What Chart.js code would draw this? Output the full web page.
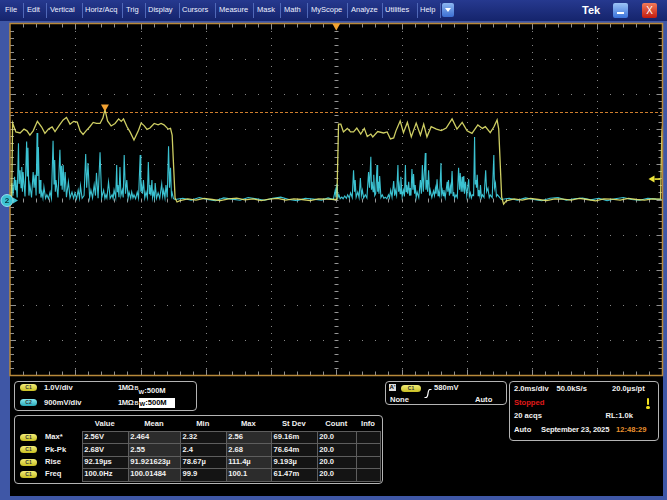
<!DOCTYPE html>
<html><head><meta charset="utf-8">
<script src="https://cdn.jsdelivr.net/npm/chart.js@4.4.1/dist/chart.umd.min.js"></script>
<style>
html,body{margin:0;padding:0;}
body{width:667px;height:500px;position:relative;overflow:hidden;background:#3f57a6;font-family:"Liberation Sans",Arial,sans-serif;}
#menu{position:absolute;left:0;top:0;width:667px;height:21px;background:linear-gradient(#26398f,#15246c);}
.mi{position:absolute;top:5px;font-size:7.5px;color:#eef1ff;line-height:10px;white-space:nowrap;}
.sep{position:absolute;top:3px;width:1px;height:15px;background:#5068b8;}
#panel{position:absolute;left:10px;top:376px;width:653px;height:120px;background:#000;}
#scope{position:absolute;left:0;top:21px;}
.box{position:absolute;border:1px solid #b4b4b4;border-radius:4px;box-sizing:border-box;}
.t{position:absolute;font-size:7.6px;font-weight:bold;color:#f2f2f2;line-height:10px;white-space:nowrap;}
.pill{position:absolute;height:7px;width:17px;border-radius:4px;font-weight:bold;font-size:5px;color:#333;text-align:center;line-height:7px;}
.py{background:linear-gradient(#f2ec78,#c9bf22);}
.pc{background:linear-gradient(#86eaf2,#2aa9b9);}
.cell{position:absolute;}
</style></head>
<body>
<div id="menu"></div>
<div id="panel"></div>
<canvas id="scope" width="667" height="357" style="width:667px;height:357px"></canvas>
<div id="ui"></div>
<script>
// ---------------- data (read from the screen) ----------------
// time in ms (2.0 ms/div, trigger at centre), volts
const c1Pulse1 = [[-10.00,0.00],[-9.95,0.01],[-9.92,2.17],[-9.82,1.92],[-9.69,1.89],[-9.57,2.00],[-9.48,1.95],[-9.39,1.83],[-9.29,1.95],[-9.16,2.22],[-9.03,2.06],[-8.93,1.88],[-8.82,2.00],[-8.71,2.06],[-8.62,1.93],[-8.48,2.12],[-8.37,2.26],[-8.27,2.33],[-8.16,2.14],[-8.05,2.22],[-7.94,2.20],[-7.85,1.95],[-7.76,1.85],[-7.67,1.95],[-7.56,2.06],[-7.45,2.19],[-7.35,2.16],[-7.24,2.16],[-7.15,2.32],[-7.09,2.56],[-7.01,2.23],[-6.90,2.09],[-6.78,2.16],[-6.67,2.29],[-6.59,2.22],[-6.52,2.29],[-6.41,2.06],[-6.32,1.92],[-6.20,1.69],[-6.06,1.97],[-5.98,2.17],[-5.89,2.10],[-5.80,1.99],[-5.71,2.03],[-5.58,2.16],[-5.46,2.12],[-5.37,2.16],[-5.28,2.12],[-5.15,2.00],[-5.08,2.02],[-5.03,1.83],[-4.94,0.04],[-4.88,-0.07],[-4.79,-0.03]];
const c1Gap1 = [[-4.55,0.02],[-4.30,-0.02],[-4.05,0.03],[-3.80,0.00],[-3.55,-0.03],[-3.30,0.02],[-3.05,0.04],[-2.80,-0.01],[-2.55,0.02],[-2.30,-0.03],[-2.05,0.01],[-1.80,0.03],[-1.55,-0.02],[-1.30,0.02],[-1.05,0.00],[-0.80,-0.03],[-0.55,0.02],[-0.30,0.01],[-0.02,0.00]];
const c1Pulse2 = [[0.02,0.01],[0.07,2.14],[0.14,2.14],[0.22,1.92],[0.34,2.02],[0.44,1.92],[0.53,1.92],[0.63,2.03],[0.75,1.86],[0.86,2.02],[0.95,1.79],[1.06,1.86],[1.12,1.78],[1.27,1.93],[1.45,1.89],[1.56,1.92],[1.66,1.72],[1.76,1.75],[1.83,1.95],[1.96,2.23],[2.06,1.90],[2.18,2.19],[2.30,1.78],[2.45,2.17],[2.58,1.83],[2.68,2.14],[2.78,1.78],[2.91,2.07],[3.07,2.00],[3.22,1.96],[3.37,2.03],[3.55,2.29],[3.70,2.00],[3.86,2.19],[4.01,1.95],[4.16,1.88],[4.34,2.12],[4.48,2.02],[4.57,2.07],[4.72,1.90],[4.83,2.06],[4.93,2.26],[4.98,2.00],[5.07,0.07],[5.13,-0.13],[5.21,-0.04]];
const c1Gap2 = [[5.45,0.02],[5.70,-0.02],[5.95,0.03],[6.20,0.00],[6.45,-0.03],[6.70,0.02],[6.95,0.01],[7.20,-0.02],[7.45,0.03],[7.70,0.00],[7.95,-0.04],[8.20,0.02],[8.45,0.01],[8.70,-0.02],[8.95,0.03],[9.20,0.00],[9.45,-0.02],[9.70,0.02],[9.94,0.01],[9.98,1.90],[10.00,2.10]];

const c2Pulse1 = [[-10.00,0.00],[-9.94,0.42],[-9.91,0.10],[-9.86,0.58],[-9.84,0.25],[-9.82,0.50],[-9.78,0.05],[-9.74,1.44],[-9.72,0.40],[-9.69,0.75],[-9.66,0.30],[-9.64,0.83],[-9.62,0.20],[-9.60,0.70],[-9.54,0.08],[-9.49,1.48],[-9.47,0.60],[-9.45,1.32],[-9.42,0.10],[-9.39,0.37],[-9.34,0.05],[-9.29,0.70],[-9.26,0.30],[-9.23,0.63],[-9.20,0.10],[-9.17,1.70],[-9.15,0.60],[-9.13,1.34],[-9.10,0.15],[-9.08,0.50],[-9.05,0.05],[-9.02,0.19],[-8.99,0.04],[-8.96,0.32],[-8.91,0.03],[-8.87,0.12],[-8.82,0.02],[-8.77,0.19],[-8.73,0.03],[-8.68,1.50],[-8.65,0.40],[-8.63,1.01],[-8.61,0.20],[-8.59,0.50],[-8.53,0.05],[-8.47,1.27],[-8.44,0.35],[-8.42,0.86],[-8.40,0.25],[-8.37,0.88],[-8.34,0.20],[-8.31,0.70],[-8.27,0.06],[-8.21,0.45],[-8.16,0.04],[-8.10,0.19],[-8.05,0.03],[-8.01,0.17],[-7.96,0.02],[-7.91,0.24],[-7.87,0.04],[-7.84,0.35],[-7.79,0.03],[-7.73,0.10],[-7.68,1.16],[-7.65,0.30],[-7.61,0.93],[-7.56,0.05],[-7.52,0.24],[-7.47,0.04],[-7.42,0.37],[-7.38,0.10],[-7.35,0.68],[-7.30,0.03],[-7.24,1.21],[-7.19,0.05],[-7.13,0.24],[-7.09,0.03],[-7.06,0.12],[-7.03,0.04],[-6.98,0.45],[-6.93,0.03],[-6.87,0.12],[-6.84,0.03],[-6.81,0.24],[-6.76,0.05],[-6.73,0.88],[-6.71,0.20],[-6.69,0.37],[-6.66,0.06],[-6.63,0.83],[-6.60,0.10],[-6.56,0.24],[-6.53,0.05],[-6.50,1.14],[-6.46,0.15],[-6.42,0.50],[-6.38,0.04],[-6.35,0.19],[-6.30,0.03],[-6.27,0.19],[-6.23,0.04],[-6.20,0.12],[-6.15,0.02],[-6.10,0.19],[-6.06,0.04],[-6.01,1.14],[-5.99,0.20],[-5.97,0.37],[-5.94,0.15],[-5.91,0.50],[-5.87,0.04],[-5.83,0.19],[-5.79,0.05],[-5.76,0.96],[-5.73,0.15],[-5.71,0.37],[-5.68,0.10],[-5.65,0.50],[-5.63,0.05],[-5.60,0.19],[-5.57,0.05],[-5.55,0.42],[-5.51,0.03],[-5.46,0.17],[-5.41,0.03],[-5.35,0.40],[-5.32,0.08],[-5.29,0.24],[-5.25,0.04],[-5.22,0.37],[-5.18,0.05],[-5.14,1.36],[-5.11,0.30],[-5.08,0.81],[-5.05,0.10],[-5.03,0.17],[-4.99,0.02],[-4.94,0.00]];
const c2Gap1 = [[-4.70,0.03],[-4.45,-0.02],[-4.20,0.05],[-3.95,0.00],[-3.70,-0.03],[-3.45,0.04],[-3.20,0.01],[-2.95,-0.02],[-2.70,0.05],[-2.45,0.02],[-2.20,-0.02],[-1.95,0.03],[-1.70,0.06],[-1.45,0.00],[-1.20,-0.03],[-0.95,0.03],[-0.70,0.01],[-0.45,-0.02],[-0.25,0.04],[-0.09,0.00]];
const c2Pulse2 = [[-0.03,0.24],[-0.01,0.05],[0.02,0.40],[0.05,0.05],[0.08,0.12],[0.12,0.02],[0.17,0.06],[0.21,0.02],[0.26,0.09],[0.31,0.03],[0.35,0.12],[0.40,0.04],[0.44,0.17],[0.49,0.05],[0.53,0.75],[0.56,0.20],[0.58,0.50],[0.61,0.06],[0.66,0.19],[0.70,0.05],[0.74,0.55],[0.77,0.10],[0.80,0.24],[0.84,0.04],[0.89,0.12],[0.94,0.04],[0.99,0.70],[1.02,0.30],[1.06,1.09],[1.08,0.25],[1.10,0.45],[1.13,0.20],[1.15,0.63],[1.18,0.10],[1.21,0.15],[1.25,0.88],[1.27,0.20],[1.29,0.45],[1.31,0.15],[1.33,0.60],[1.37,0.05],[1.41,0.12],[1.46,0.03],[1.50,0.06],[1.55,0.02],[1.60,0.12],[1.63,0.04],[1.67,0.24],[1.71,0.06],[1.76,0.47],[1.79,0.10],[1.81,0.24],[1.85,0.10],[1.89,0.88],[1.91,0.20],[1.93,0.37],[1.96,0.15],[1.98,0.58],[2.02,0.08],[2.06,0.24],[2.09,0.08],[2.12,0.88],[2.14,0.20],[2.16,0.37],[2.19,0.15],[2.22,0.45],[2.25,0.10],[2.27,0.29],[2.29,0.10],[2.32,0.78],[2.35,0.25],[2.37,0.65],[2.40,0.15],[2.42,0.37],[2.45,0.05],[2.48,0.19],[2.53,0.05],[2.58,0.50],[2.61,0.15],[2.64,0.88],[2.67,0.20],[2.73,1.19],[2.75,0.25],[2.78,0.50],[2.80,0.20],[2.83,0.75],[2.86,0.10],[2.88,0.24],[2.93,0.05],[2.98,0.22],[3.01,0.10],[3.04,0.29],[3.06,0.15],[3.09,0.52],[3.12,0.10],[3.14,0.19],[3.17,0.10],[3.21,0.93],[3.23,0.15],[3.25,0.24],[3.28,0.10],[3.30,0.24],[3.34,0.05],[3.40,0.45],[3.42,0.20],[3.44,0.50],[3.47,0.10],[3.50,0.32],[3.52,0.15],[3.55,0.73],[3.58,0.10],[3.60,0.19],[3.63,0.04],[3.67,0.12],[3.71,0.05],[3.75,0.81],[3.78,0.25],[3.80,0.68],[3.83,0.20],[3.86,0.58],[3.88,0.20],[3.91,0.60],[3.93,0.15],[3.96,0.45],[4.00,0.10],[4.06,0.52],[4.08,0.08],[4.11,0.17],[4.14,0.04],[4.17,0.12],[4.21,0.10],[4.24,1.60],[4.26,0.40],[4.28,0.50],[4.30,0.30],[4.32,0.63],[4.35,0.10],[4.37,0.24],[4.40,0.10],[4.42,0.37],[4.45,0.05],[4.48,0.12],[4.53,0.05],[4.58,0.75],[4.61,0.20],[4.65,0.29],[4.69,0.05],[4.72,0.12],[4.78,0.05],[4.83,1.14],[4.85,0.30],[4.88,0.42],[4.91,0.08],[4.94,0.12],[5.00,0.06],[5.06,0.00]];
const c2Gap2 = [[5.30,0.03],[5.55,-0.02],[5.80,0.04],[6.05,0.00],[6.30,-0.03],[6.55,0.03],[6.80,0.05],[7.05,-0.02],[7.30,0.02],[7.55,0.04],[7.80,-0.01],[8.05,0.03],[8.30,-0.03],[8.55,0.02],[8.80,0.05],[9.05,0.00],[9.30,-0.02],[9.55,0.03],[9.80,0.01],[10.00,0.00]];

// graticule (10 x 10 divisions)
const gridTimes = [-8,-6,-4,-2,0,2,4,6,8];      // ms, 2.0 ms/div
const gridVolts = [-4,-3,-2,-1,0,1,2,3,4];      // C1 volts, 1.0 V/div
const triggerTime = 0;       // ms
const triggerLevel = 0.58;   // V (580mV on C1)
const cursorLevel = 2.5;     // V, orange dashed cursor
const cursorTime = -7.09;    // ms, orange marker

// text content
const menuItems = ['File','Edit','Vertical','Horiz/Acq','Trig','Display','Cursors','Measure','Mask','Math','MyScope','Analyze','Utilities','Help'];
const measColumns = ['Value','Mean','Min','Max','St Dev','Count','Info'];
const measNames = ['Max*','Pk-Pk','Rise','Freq'];
const measValues = [
  ['2.56V','2.464','2.32','2.56','69.16m','20.0',''],
  ['2.68V','2.55','2.4','2.68','76.64m','20.0',''],
  ['92.19µs','91.921623µ','78.67µ','111.4µ','9.193µ','20.0',''],
  ['100.0Hz','100.01484','99.9','100.1','61.47m','20.0','']
];

// ---------------- UI chrome ----------------
const ui = document.getElementById('ui');
function add(parent, cls, style, text, html){
  const d=document.createElement('div'); if(cls) d.className=cls; d.style.cssText=style;
  if(html!==undefined) d.innerHTML=html; else if(text!==undefined) d.textContent=text;
  parent.appendChild(d); return d;
}
const menu=document.getElementById('menu');
const menuX=[5,27,50,85,126,148,182,219,257,284,311,351,385,420];
const sepX=[23,46,82,122,145,179,215,253,280,307,347,382,417,440];
menuItems.forEach((m,i)=>add(menu,'mi','left:'+menuX[i]+'px',m));
sepX.forEach(x=>add(menu,'sep','left:'+x+'px'));
add(menu,'','position:absolute;left:442px;top:3px;width:12px;height:14px;border-radius:2px;background:linear-gradient(#8cb6f0,#3b6ed2);');
add(menu,'','position:absolute;left:445px;top:8px;width:0;height:0;border-left:3px solid transparent;border-right:3px solid transparent;border-top:4px solid #fff;');
add(menu,'','position:absolute;left:582px;top:3px;font:bold 11px "Liberation Sans";color:#fff;line-height:14px;','Tek');
add(menu,'','position:absolute;left:613px;top:3px;width:15px;height:15px;border-radius:2px;background:linear-gradient(#9cc4f6,#3a72da);');
add(menu,'','position:absolute;left:617px;top:12px;width:7px;height:2px;background:#fff;');
add(menu,'','position:absolute;left:642px;top:3px;width:15px;height:15px;border-radius:2px;background:linear-gradient(#f27a5a,#c21c10);color:#fff;font:10px "Liberation Sans";text-align:center;line-height:15px;','X');

// channel box
add(ui,'box','left:14px;top:381px;width:183px;height:30px;');
add(ui,'pill py','left:20px;top:384px;','C1');
add(ui,'t','left:44px;top:382.5px;','1.0V/div');
add(ui,'t','left:118px;top:382.5px;letter-spacing:-0.4px;','1MΩ');
add(ui,'t','left:134.5px;top:382.5px;',undefined,'<span style="font-size:5.5px;vertical-align:3px">B</span><span style="font-size:6px;vertical-align:-1px">W</span>:500M');
add(ui,'pill pc','left:20px;top:399px;','C2');
add(ui,'t','left:44px;top:397.5px;','900mV/div');
add(ui,'t','left:118px;top:397.5px;letter-spacing:-0.4px;','1MΩ');
add(ui,'t','left:134.5px;top:397.5px;',undefined,'<span style="font-size:5.5px;vertical-align:3px">B</span>');
add(ui,'','position:absolute;left:139px;top:398px;width:36px;height:10px;background:#fff;');
add(ui,'t','left:139.5px;top:397.5px;color:#000;',undefined,'<span style="font-size:6px;vertical-align:-1px">W</span>:500M');

// measurement box
add(ui,'box','left:14px;top:415px;width:369px;height:69px;');
const colL=[81.7,127.7,180,225.7,271,316.7,356,380];
const rowT=[431,443.4,455.8,468.2,480.6];
const colBg=['#141414','#2c2c2c','#141414','#2c2c2c','#141414','#141414','#141414'];
measColumns.forEach((c,i)=>add(ui,'t','left:'+colL[i]+'px;width:'+(colL[i+1]-colL[i])+'px;text-align:center;top:418.5px;',c));
add(ui,'cell','left:'+colL[0]+'px;top:'+rowT[0]+'px;width:'+(colL[7]-colL[0]+1)+'px;height:'+(rowT[4]-rowT[0]+1)+'px;background:#5e5e5e;');
measNames.forEach((n,r)=>{
  const cy=(rowT[r]+rowT[r+1])/2;
  add(ui,'pill py','left:20px;top:'+(cy-3.5)+'px;','C1');
  add(ui,'t','left:45px;top:'+(cy-5)+'px;',n);
  for(let c=0;c<7;c++){
    add(ui,'cell','left:'+(colL[c]+1)+'px;top:'+(rowT[r]+1)+'px;width:'+(colL[c+1]-colL[c]-1)+'px;height:'+(rowT[r+1]-rowT[r]-1)+'px;background:'+colBg[c]+';');
    if(measValues[r][c]) add(ui,'t','left:'+(colL[c]+2.5)+'px;top:'+(cy-5)+'px;',measValues[r][c]);
  }
});

// trigger box
add(ui,'box','left:385px;top:381px;width:122px;height:24px;');
add(ui,'','position:absolute;left:389px;top:384px;width:7px;height:7px;background:#ddd;color:#000;font:bold 6px "Liberation Sans";line-height:7px;text-align:center;','A\'');
add(ui,'pill py','left:401px;top:384.5px;width:20px;','C1');
add(ui,'',"position:absolute;left:424px;top:384px;",undefined,'<svg width="8" height="9"><path d="M0.5 8.5 L2 8.5 Q3.5 8.5 4 4.5 Q4.5 0.5 6 0.5 L7.5 0.5" stroke="#fff" stroke-width="1.2" fill="none"/></svg>');
add(ui,'t','left:434px;top:383px;','580mV');
add(ui,'t','left:390px;top:395px;','None');
add(ui,'t','left:475px;top:395px;','Auto');

// horizontal / acquisition box
add(ui,'box','left:509px;top:381px;width:150px;height:60px;');
add(ui,'t','left:514px;top:383.7px;','2.0ms/div');
add(ui,'t','left:556.5px;top:383.7px;','50.0kS/s');
add(ui,'t','left:612px;top:383.7px;','20.0µs/pt');
add(ui,'t','left:514px;top:397.7px;color:#e01a1a;','Stopped');
add(ui,'','position:absolute;left:646.5px;top:397.5px;width:2.5px;height:7px;background:#f0e020;border-radius:1px;');
add(ui,'','position:absolute;left:646px;top:405.5px;width:3.5px;height:3px;background:#f0e020;border-radius:2px;');
add(ui,'t','left:514px;top:410.7px;','20 acqs');
add(ui,'t','left:605.5px;top:410.7px;','RL:1.0k');
add(ui,'t','left:514px;top:425px;','Auto');
add(ui,'t','left:541px;top:425px;letter-spacing:-0.15px;','September 23, 2025');
add(ui,'t','left:616px;top:425px;color:#e8902e;','12:48:29');

// ---------------- Chart ----------------
const toXY = arr => arr.map(([t,v])=>({x:t,y:v}));
const c1Points = toXY([...c1Pulse1, ...c1Gap1, ...c1Pulse2, ...c1Gap2]);
const c2Points = toXY([...c2Pulse1, ...c2Gap1, ...c2Pulse2, ...c2Gap2]);

const scopeDecor = {
  id:'scopeDecor',
  beforeDatasetsDraw(chart){
    const {ctx, chartArea:a, scales} = chart;
    const x=scales.x, y=scales.y1;
    ctx.save();
    ctx.fillStyle='#000';
    ctx.fillRect(a.left,a.top,a.right-a.left,a.bottom-a.top);
    ctx.fillStyle='rgba(150,150,150,0.9)';
    for(const t of gridTimes){
      const px=Math.round(x.getPixelForValue(t));
      for(let k=1;k<50;k++){ const py=Math.round(y.getPixelForValue(-5+k*0.2)); ctx.fillRect(px,py,1,1); }
    }
    for(const v of gridVolts){
      const py=Math.round(y.getPixelForValue(v));
      for(let k=1;k<50;k++){ const px=Math.round(x.getPixelForValue(-10+k*0.4)); ctx.fillRect(px,py,1,1); }
    }
    ctx.strokeStyle='rgba(160,160,160,0.9)'; ctx.lineWidth=1;
    const cx=Math.round(x.getPixelForValue(0))+0.5, cy=Math.round(y.getPixelForValue(0))+0.5;
    ctx.beginPath();
    for(let k=1;k<50;k++){
      const py=Math.round(y.getPixelForValue(-5+k*0.2))+0.5;
      ctx.moveTo(cx-2,py); ctx.lineTo(cx+2,py);
      const len = k%5===0?6:4;
      ctx.moveTo(a.left,py); ctx.lineTo(a.left+len,py);
      ctx.moveTo(a.right,py); ctx.lineTo(a.right-len,py);
    }
    for(let k=1;k<50;k++){
      const px=Math.round(x.getPixelForValue(-10+k*0.4))+0.5;
      ctx.moveTo(px,cy-2); ctx.lineTo(px,cy+2);
      const len = k%5===0?6:4;
      ctx.moveTo(px,a.top); ctx.lineTo(px,a.top+len);
      ctx.moveTo(px,a.bottom); ctx.lineTo(px,a.bottom-len);
    }
    ctx.stroke();
    // cursor line
    const cyl=Math.round(y.getPixelForValue(cursorLevel))+0.5;
    ctx.strokeStyle='rgb(205,125,45)'; ctx.setLineDash([3,2]);
    ctx.beginPath(); ctx.moveTo(a.left,cyl); ctx.lineTo(a.right,cyl); ctx.stroke();
    ctx.setLineDash([]);
    ctx.restore();
  },
  afterDatasetsDraw(chart){
    const {ctx, chartArea:a, scales} = chart;
    const x=scales.x, y=scales.y1;
    ctx.save();
    ctx.strokeStyle='#b8893a'; ctx.lineWidth=1.5;
    ctx.strokeRect(a.left,a.top,a.right-a.left,a.bottom-a.top);
    // trigger position marker
    const tx=x.getPixelForValue(triggerTime);
    ctx.fillStyle='#f2a232';
    ctx.beginPath(); ctx.moveTo(tx-4,a.top); ctx.lineTo(tx+4,a.top); ctx.lineTo(tx,a.top+7); ctx.closePath(); ctx.fill();
    // cursor marker
    const mx=x.getPixelForValue(cursorTime), cyl=y.getPixelForValue(cursorLevel);
    ctx.beginPath(); ctx.moveTo(mx-4,cyl-7); ctx.lineTo(mx+4,cyl-7); ctx.lineTo(mx,cyl); ctx.closePath(); ctx.fill();
    // trigger level arrow
    const ty=y.getPixelForValue(triggerLevel);
    ctx.fillStyle='#ece43a';
    ctx.beginPath(); ctx.moveTo(a.right-14,ty); ctx.lineTo(a.right-8,ty-3.5); ctx.lineTo(a.right-8,ty+3.5); ctx.closePath(); ctx.fill();
    ctx.fillRect(a.right-8,ty-0.8,6,1.6);
    // channel 2 ground marker
    const gy=scales.y2.getPixelForValue(0)+1;
    ctx.fillStyle='#3cc2d2';
    ctx.beginPath(); ctx.moveTo(a.left+3,gy-3); ctx.lineTo(a.left+8,gy); ctx.lineTo(a.left+3,gy+3); ctx.closePath(); ctx.fill();
    ctx.beginPath(); ctx.arc(a.left-3,gy,6,0,Math.PI*2); ctx.fill();
    ctx.strokeStyle='#a8f4fa'; ctx.lineWidth=0.8; ctx.stroke();
    ctx.fillStyle='#06343c'; ctx.font='bold 8px "Liberation Sans"'; ctx.textAlign='center'; ctx.textBaseline='middle';
    ctx.fillText('2',a.left-3,gy+0.5);
    ctx.restore();
  }
};

new Chart(document.getElementById('scope'),{
  type:'line',
  data:{datasets:[
    {label:'C1',data:c1Points,yAxisID:'y1',borderColor:'rgba(228,228,110,0.9)',borderWidth:1.3,pointRadius:0,tension:0},
    {label:'C2',data:c2Points,yAxisID:'y2',borderColor:'rgba(62,204,220,0.95)',borderWidth:1.1,pointRadius:0,tension:0}
  ]},
  options:{
    responsive:false, animation:false, events:[],
    layout:{padding:{left:10,right:4.5,top:2.5,bottom:2.5}},
    plugins:{legend:{display:false},tooltip:{enabled:false}},
    scales:{
      x:{type:'linear',min:-10,max:10,display:false},
      y1:{type:'linear',min:-5,max:5,display:false},
      y2:{type:'linear',min:-4.5,max:4.5,display:false}
    }
  },
  plugins:[scopeDecor]
});
</script>
</body></html>
